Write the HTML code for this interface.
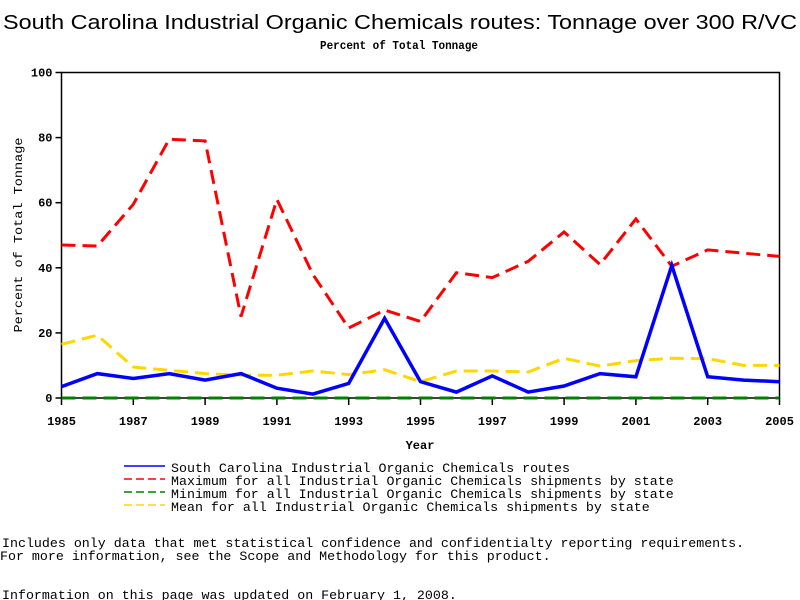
<!DOCTYPE html>
<html><head><meta charset="utf-8"><style>
html,body{margin:0;padding:0;background:#fff;}
svg{display:block;}
text{font-family:"Liberation Mono",monospace;fill:#000;}
</style></head><body>
<svg id="chart" width="800" height="600" xmlns="http://www.w3.org/2000/svg">
<text x="400" y="29" text-anchor="middle" style="font-family:'Liberation Sans',sans-serif;font-size:20px" textLength="794" lengthAdjust="spacingAndGlyphs">South Carolina Industrial Organic Chemicals routes: Tonnage over 300 R/VC</text>
<text x="399" y="49" text-anchor="middle" style="font-size:12px;font-weight:bold" textLength="158" lengthAdjust="spacingAndGlyphs">Percent of Total Tonnage</text>
<rect x="61.5" y="72.5" width="718" height="325.5" fill="none" stroke="#000" stroke-width="1.5"/>
<g id="yaxis"></g>
<g id="xaxis"></g>
<text transform="translate(22,235) rotate(-90)" text-anchor="middle" style="font-size:12px" textLength="195" lengthAdjust="spacingAndGlyphs">Percent of Total Tonnage</text>
<text x="420" y="449" text-anchor="middle" style="font-size:12px;font-weight:bold">Year</text>
<g id="series"></g>
<g>
<line x1="124" y1="466" x2="165" y2="466" stroke="#0000ff" stroke-width="1.5"/>
<text x="171" y="472" style="font-size:13.3px">South Carolina Industrial Organic Chemicals routes</text>
<line x1="124" y1="479" x2="165" y2="479" stroke="#ff0000" stroke-width="1.5" stroke-dasharray="8,4"/>
<text x="171" y="485" style="font-size:13.3px">Maximum for all Industrial Organic Chemicals shipments by state</text>
<line x1="124" y1="492" x2="165" y2="492" stroke="#008000" stroke-width="1.5" stroke-dasharray="8,4"/>
<text x="171" y="498" style="font-size:13.3px">Minimum for all Industrial Organic Chemicals shipments by state</text>
<line x1="124" y1="505" x2="165" y2="505" stroke="#ffd700" stroke-width="1.5" stroke-dasharray="8,4"/>
<text x="171" y="511" style="font-size:13.3px">Mean for all Industrial Organic Chemicals shipments by state</text>
</g>
<text x="2" y="547" style="font-size:13.3px">Includes only data that met statistical confidence and confidentialty reporting requirements.</text>
<text x="0" y="560" style="font-size:13.3px">For more information, see the Scope and Methodology for this product.</text>
<text x="2" y="599" style="font-size:13.3px">Information on this page was updated on February 1, 2008.</text>
</svg>
<script>
const years = [1985,1986,1987,1988,1989,1990,1991,1992,1993,1994,1995,1996,1997,1998,1999,2000,2001,2002,2003,2004,2005];
const stateValues = [3.5,7.5,6,7.5,5.5,7.5,3,1.2,4.5,24.5,5,1.8,6.8,1.8,3.7,7.5,6.5,40.7,6.5,5.5,5];
const maxValues = [47,46.7,59.5,79.5,79,25,61,38,21.5,27,23.5,38.5,37,42,51,41,55,40.5,45.5,44.5,43.5];
const minValues = [0,0,0,0,0,0,0,0,0,0,0,0,0,0,0,0,0,0,0,0,0];
const meanValues = [16.5,19.3,9.5,8.5,7.5,7,7,8.3,7.2,8.7,5,8.3,8.3,8,12.2,9.8,11.5,12.2,12.1,10,10];
const yTicks = [0,20,40,60,80,100];
const xTickLabels = [1985,1987,1989,1991,1993,1995,1997,1999,2001,2003,2005];

const NS = "http://www.w3.org/2000/svg";
const X0 = 61.5, X1 = 779.5, Y0 = 398, Y1 = 72.5;
function xs(y){ return X0 + (y - 1985) / 20 * (X1 - X0); }
function ys(v){ return Y0 - v / 100 * (Y0 - Y1); }
function mk(tag, attrs){ const e = document.createElementNS(NS, tag); for (const k in attrs) e.setAttribute(k, attrs[k]); return e; }

const yaxis = document.getElementById('yaxis');
yTicks.forEach(t => {
  const l = mk('line', {x1: X0 - 6, x2: X0, y1: ys(t), y2: ys(t), stroke: '#000', 'stroke-width': 1.5});
  
  
  yaxis.appendChild(l);
  const tx = mk('text', {x: X0 - 9, y: ys(t) + 4, 'text-anchor': 'end', style: 'font-size:12px;font-weight:bold'});
  tx.textContent = t;
  
  
  yaxis.appendChild(tx);
});
const xaxis = document.getElementById('xaxis');
xTickLabels.forEach(t => {
  const l = mk('line', {x1: xs(t), x2: xs(t), y1: Y0, y2: Y0 + 7, stroke: '#000', 'stroke-width': 1.5});
  
  
  xaxis.appendChild(l);
  const tx = mk('text', {x: xs(t), y: Y0 + 27, 'text-anchor': 'middle', style: 'font-size:12px;font-weight:bold'});
  tx.textContent = t;
  
  
  xaxis.appendChild(tx);
});
const series = document.getElementById('series');
function drawLine(vals, color, dash, width, name){
  const pts = vals.map((v, i) => xs(years[i]).toFixed(1) + ',' + ys(v).toFixed(1)).join(' ');
  const attrs = {points: pts, fill: 'none', stroke: color, 'stroke-width': width, 'stroke-linejoin': 'miter'};
  if (dash) attrs['stroke-dasharray'] = dash;
  const p = mk('polyline', attrs);
  
  
  series.appendChild(p);
}
drawLine(maxValues, '#ff0000', '14,7', 3, 'max-line');
drawLine(meanValues, '#ffd700', '14,7', 3, 'mean-line');
drawLine(minValues, '#008000', '14,7', 3, 'min-line');
drawLine(stateValues, '#0000ff', null, 3.5, 'state-line');
</script>
</body></html>
